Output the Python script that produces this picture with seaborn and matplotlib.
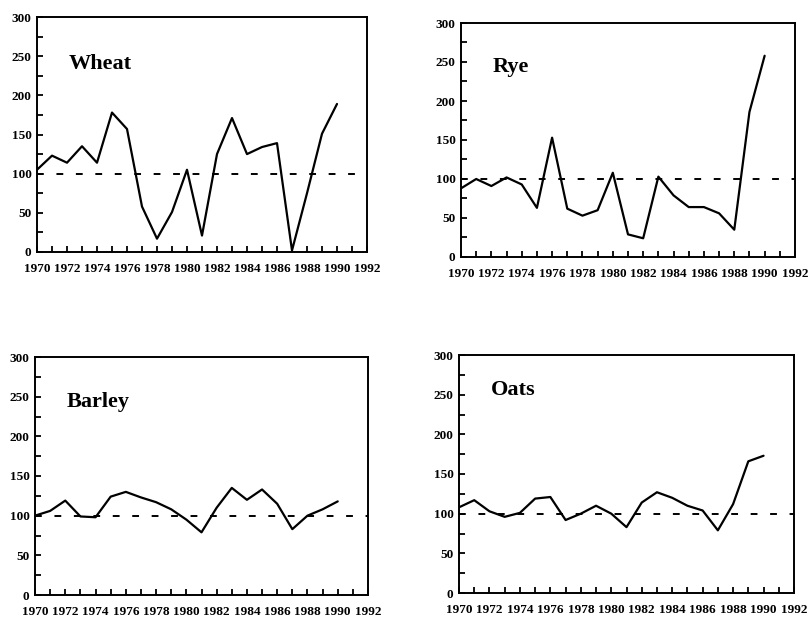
import numpy as np
import pandas as pd
import matplotlib
matplotlib.use("Agg")
import matplotlib.pyplot as plt
import seaborn as sns

years = list(range(1970, 1991))
wheat = [105, 123, 114, 135, 114, 178, 157, 58, 17, 51, 105, 21, 125, 171, 125, 134, 139, 2, 75, 151, 189]
rye = [88, 100, 91, 102, 93, 63, 153, 62, 53, 60, 108, 29, 24, 103, 79, 64, 64, 56, 35, 186, 258]
barley = [100, 106, 119, 99, 98, 124, 130, 123, 117, 108, 95, 79, 110, 135, 120, 133, 115, 83, 100, 108, 118]
oats = [108, 117, 103, 96, 101, 119, 121, 92, 100, 110, 100, 83, 114, 127, 120, 110, 104, 79, 112, 166, 173]
crop_names = ["Wheat", "Rye", "Barley", "Oats"]
series = [wheat, rye, barley, oats]
x_tick_labels = [str(y) for y in range(1970, 1993, 2)]
y_tick_labels = [str(v) for v in range(0, 301, 50)]
baseline = 100

sns.set_style("ticks")
plt.rcParams['font.family'] = ['Liberation Serif', 'DejaVu Serif']
plt.rcParams['font.weight'] = 'bold'
plt.rcParams['text.color'] = 'black'
plt.rcParams['xtick.color'] = 'black'
plt.rcParams['ytick.color'] = 'black'
plt.rcParams['xtick.labelcolor'] = 'black'
plt.rcParams['ytick.labelcolor'] = 'black'

W, H = 809, 621
fig = plt.figure(figsize=(W / 100, H / 100), dpi=100)
fig.patch.set_facecolor("white")

# pixel boxes: left, right, top, bottom
boxes = [(37, 367, 17, 252), (461, 795, 23, 257), (35, 368, 357, 595), (459, 794, 355, 593)]
title_y = [234, 237, 237, 250]

for name, vals, box, ty in zip(crop_names, series, boxes, title_y):
    l, r, t, b = box
    ax = fig.add_axes([l / W, (H - b) / H, (r - l) / W, (b - t) / H])
    df = pd.DataFrame({"year": years, "value": vals})
    sns.lineplot(data=df, x="year", y="value", ax=ax, color="black", linewidth=1.6)
    ax.plot([1970, 1992], [baseline, baseline], color="black", linewidth=1.4,
            linestyle=(0, (3.5, 6.5)))
    ax.set_xlim(1970, 1992)
    ax.set_ylim(0, 300)
    ax.set_xticks(range(1970, 1993, 2))
    ax.set_xticklabels(x_tick_labels)
    ax.set_xticks(range(1970, 1993, 1), minor=True)
    ax.set_yticks(range(0, 301, 50))
    ax.set_yticklabels(y_tick_labels)
    ax.set_yticks(range(0, 301, 25), minor=True)
    ax.tick_params(axis="both", which="both", direction="in", length=4, width=1.3,
                   colors="black")
    ax.tick_params(axis="x", which="major", pad=8, labelsize=9.5)
    ax.tick_params(axis="y", which="major", pad=4, labelsize=9.5)
    for lab in ax.get_xticklabels() + ax.get_yticklabels():
        lab.set_fontweight("bold")
        lab.set_color("black")
    for sp in ax.spines.values():
        sp.set_linewidth(1.4)
        sp.set_color("black")
    ax.set_xlabel("")
    ax.set_ylabel("")
    ax.grid(False)
    ax.text(1972.1, ty, name, fontsize=16, fontweight="bold", va="baseline", ha="left",
            color="black")

fig.savefig("out.png", dpi=100, facecolor="white")
